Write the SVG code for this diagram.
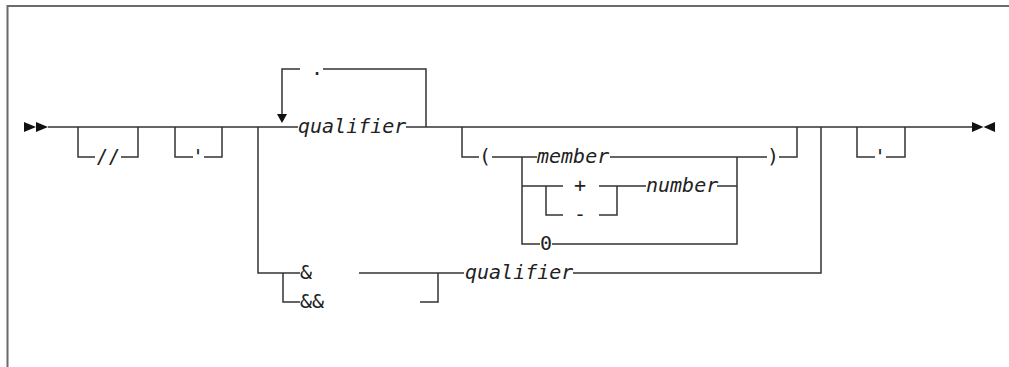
<svg xmlns="http://www.w3.org/2000/svg" width="1009" height="367" viewBox="0 0 1009 367">
<style>
.frame{fill:none;stroke:#6b6b6b;stroke-width:2}
.ln{fill:none;stroke:#333;stroke-width:1.5}
.mk{fill:#111;stroke:none}
text{font-family:"DejaVu Sans Mono","Liberation Mono",monospace;font-size:20px;fill:#222}
.v{font-style:italic}
.m{text-anchor:middle}
</style>
<rect width="1009" height="367" fill="#fff"/>
<path class="frame" d="M7.5 367 V6 H1009"/>
<g id="connectors">
<path class="ln" d="M48 127 H298 M406 127 H972"/>
<path class="ln" d="M78 127 V157 H95 M121 157 H138 V127"/>
<path class="ln" d="M175 127 V157 H193 M204 157 H222 V127"/>
<path class="ln" d="M426 127 V69 H323 M300 69 H282 V115"/>
<path class="ln" d="M462 127 V157 H479 M492 157 H537 M610 157 H767 M779 157 H797 V127"/>
<path class="ln" d="M522 157 V244 H540 M552 244 H737 V157"/>
<path class="ln" d="M522 186 H563 M599 186 H646 M717 186 H737"/>
<path class="ln" d="M546 186 V215 H563 M599 215 H617 V186"/>
<path class="ln" d="M857 127 V157 H875 M886 157 H905 V127"/>
<path class="ln" d="M258 127 V273 H300 M283 273 V302 H300 M359 273 H464 M420 302 H438 V273 M573 273 H821 V127"/>
<polygon class="mk" points="277,114 287,114 282,123"/>
</g>
<g id="start"><polygon class="mk" points="24,122 36,127 24,132"/><polygon class="mk" points="36,122 48,127 36,132"/></g>
<g id="end"><polygon class="mk" points="972,122 983.5,127 972,132"/><polygon class="mk" points="995,122 983.5,127 995,132"/></g>
<g id="n-slashes"><text class="m" x="108" y="163">//</text></g>
<g id="n-quote1"><text class="m" x="198" y="163">'</text></g>
<g id="n-qualifier1"><text class="v" x="298" y="133">qualifier</text></g>
<g id="n-dot"><text class="m" x="317" y="75">.</text></g>
<g id="n-lparen"><text class="m" x="485" y="163">(</text></g>
<g id="n-member"><text class="v" x="537" y="163">member</text></g>
<g id="n-plus"><text class="m" x="580" y="192">+</text></g>
<g id="n-minus"><text class="m" x="580" y="221">-</text></g>
<g id="n-number"><text class="v" x="646" y="192">number</text></g>
<g id="n-zero"><text class="m" x="546" y="250">0</text></g>
<g id="n-rparen"><text class="m" x="773" y="163">)</text></g>
<g id="n-quote2"><text class="m" x="880" y="163">'</text></g>
<g id="n-amp"><text x="300" y="279">&amp;</text></g>
<g id="n-ampamp"><text x="300" y="308">&amp;&amp;</text></g>
<g id="n-qualifier2"><text class="v" x="465" y="279">qualifier</text></g>
</svg>
